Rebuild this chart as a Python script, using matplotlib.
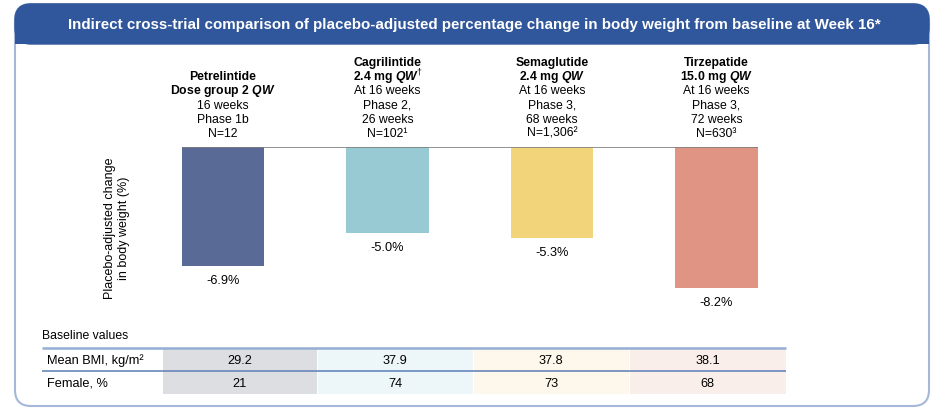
import matplotlib
matplotlib.use("Agg")
import matplotlib.pyplot as plt
from matplotlib import rcParams
from matplotlib.patches import FancyBboxPatch, Rectangle
from matplotlib.transforms import blended_transform_factory

rcParams['font.family'] = 'Liberation Sans'
rcParams['mathtext.fontset'] = 'custom'
rcParams['mathtext.rm'] = 'Liberation Sans'
rcParams['mathtext.it'] = 'Liberation Sans:italic'
rcParams['mathtext.bf'] = 'Liberation Sans:bold'
rcParams['mathtext.bfit'] = 'Liberation Sans:bold:italic'

# data
title = "Indirect cross-trial comparison of placebo-adjusted percentage change in body weight from baseline at Week 16*"
drug_names = ["Petrelintide", "Cagrilintide", "Semaglutide", "Tirzepatide"]
doses = [r"Dose group 2 $\mathbfit{QW}$", r"2.4 mg $\mathbfit{QW}^{\dagger}$",
         r"2.4 mg $\mathbfit{QW}$", r"15.0 mg $\mathbfit{QW}$"]
details = [["16 weeks", "Phase 1b", "N=12"],
           ["At 16 weeks", "Phase 2,", "26 weeks", "N=102¹"],
           ["At 16 weeks", "Phase 3,", "68 weeks", "N=1,306²"],
           ["At 16 weeks", "Phase 3,", "72 weeks", "N=630³"]]
weight_change = [-6.9, -5.0, -5.3, -8.2]
bar_colors = ['#586A95', '#97CAD3', '#F2D47A', '#E09584']

row_labels = ["Mean BMI, kg/m²", "Female, %"]
mean_bmi = ["29.2", "37.9", "37.8", "38.1"]
female_pct = ["21", "74", "73", "68"]
cell_colors = ['#DCDEE2', '#EDF6F8', '#FDF8EB', '#FAEEEB']

W, H = 936, 410
fig = plt.figure(figsize=(W / 100, H / 100), dpi=100)

# background axes in pixel coords
bg = fig.add_axes([0, 0, 1, 1])
bg.set_xlim(0, W)
bg.set_ylim(H, 0)
bg.axis('off')

frame_col = '#A5B8D8'
head_col = '#30569B'
bg.add_patch(FancyBboxPatch((15, 5), 914, 402, boxstyle="round,pad=0,rounding_size=16",
                            facecolor='white', edgecolor=frame_col, lw=1.5))
bg.add_patch(FancyBboxPatch((15, 5), 914, 40, boxstyle="round,pad=0,rounding_size=16",
                            facecolor=head_col, edgecolor=head_col, lw=1))
bg.add_patch(Rectangle((15, 26), 914, 19, facecolor=head_col, edgecolor='none'))
bg.text(474, 25, title, color='white', fontsize=10.9, fontweight='bold',
        ha='center', va='center')

# bar axes: baseline at y=148 px, 17.2 px per %
bar_top, px_per = 148, 17.2
ymin = -9.0
ax_h = -ymin * px_per
spacing = 164.5
ax_left = 223 - spacing / 2
ax = fig.add_axes([ax_left / W, (H - bar_top - ax_h) / H, 4 * spacing / W, ax_h / H])
ax.set_xlim(-0.5, 3.5)
ax.set_ylim(ymin, 0)
ax.axis('off')
x = range(len(weight_change))
ax.bar(x, weight_change, width=0.5, color=bar_colors, zorder=2)
ax.hlines(0, -0.25, 3.25, color='#7F7F7F', lw=1.2, zorder=3)
for i, v in zip(x, weight_change):
    ax.annotate(f"{v:.1f}%", (i, v), xytext=(0, -10), textcoords='offset points',
                ha='center', va='center', fontsize=9.2)

# column headers
tr = blended_transform_factory(ax.transData, bg.transData)
line_h = 14.2
for i in x:
    lines = [drug_names[i], doses[i]] + details[i]
    n = len(lines)
    for j, s in enumerate(lines):
        y = 134 - (n - 1 - j) * line_h
        ax.text(i, y, s, transform=tr, ha='center', va='center', fontsize=8.8,
                fontweight='bold' if j < 2 else 'normal', clip_on=False)

bg.text(117, 228, "Placebo-adjusted change\nin body weight (%)", rotation=90,
        ha='center', va='center', fontsize=9, linespacing=1.15)

# baseline table
bg.text(42, 336, "Baseline values", fontsize=8.8, ha='left', va='center')
col_edges = [162, 317, 473, 629, 786]
row_tops = [349, 372]
row_h = 23
for r, vals in enumerate([mean_bmi, female_pct]):
    yt = row_tops[r]
    bg.text(47, yt + row_h / 2 + 0.5, row_labels[r], fontsize=9.2, ha='left', va='center')
    for c, val in enumerate(vals):
        x0, x1 = col_edges[c], col_edges[c + 1]
        bg.add_patch(Rectangle((x0 + 0.5, yt), x1 - x0 - 1, row_h,
                               facecolor=cell_colors[c], edgecolor='none'))
        bg.text((x0 + x1) / 2, yt + row_h / 2 + 0.5, val, fontsize=9.2,
                ha='center', va='center')
bg.hlines(349, 42, 786, color='#95AED3', lw=1.8)
bg.hlines(372, 42, 786, color='#6787BB', lw=1.2)

fig.savefig("out.png", dpi=100)
